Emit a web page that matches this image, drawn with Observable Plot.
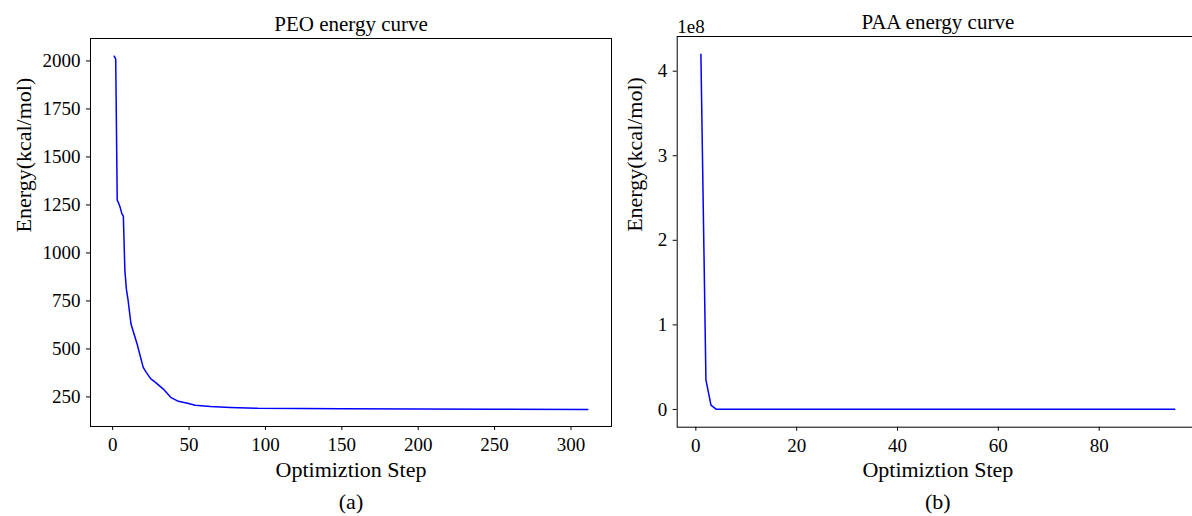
<!DOCTYPE html>
<html><head><meta charset="utf-8">
<script src="https://cdn.jsdelivr.net/npm/d3@7"></script>
<script src="https://cdn.jsdelivr.net/npm/@observablehq/plot@0.6"></script>
<style>
html,body{margin:0;padding:0;background:#fff;overflow:hidden;}
#wrap{position:relative;width:1192px;height:516px;overflow:hidden;background:#fff;}
#a,#b{position:absolute;top:0;}
#a{left:0px;width:620px}
#b{left:612px;width:600px}
svg{overflow:visible;max-width:none !important;}
</style></head><body>
<div id="wrap"><div id="a"></div><div id="b"></div></div>
<script>
// PEO panel data (optimization step, energy kcal/mol)
const peoStep   = [1, 2, 3, 4, 5, 6, 7, 8, 9, 10, 12, 16, 20, 22, 25, 28, 33, 38, 43, 49, 54, 64, 77, 95, 150, 200, 250, 311];
const peoEnergy = [2025, 2010, 1275, 1258, 1235, 1205, 1192, 908, 810, 760, 630, 526, 404, 378, 344, 326, 292, 248, 227, 217, 207, 200, 195, 191, 189, 187, 186, 185];
const peoXTicks = [0, 50, 100, 150, 200, 250, 300];
const peoYTicks = [250, 500, 750, 1000, 1250, 1500, 1750, 2000];

// PAA panel data
const paaStep   = [1, 2, 3, 4, 95];
const paaEnergy = [4.2e8, 3.5e7, 5e6, 3e5, 2e5];
const paaXTicks = [0, 20, 40, 60, 80];
const paaYTicks = [0, 1e8, 2e8, 3e8, 4e8];

const titles = ["PEO energy curve", "PAA energy curve"];
const xLabel = "Optimiztion Step";
const yLabel = "Energy(kcal/mol)";
const captions = ["(a)", "(b)"];

const FONT = "Liberation Serif";
const BLUE = "#0000ff";

const peo = peoStep.map((s, i) => ({step: s, energy: peoEnergy[i]}));
const paa = paaStep.map((s, i) => ({step: s, energy: paaEnergy[i]}));

function textMarks(title, caption, ylabDx) {
  return [
    Plot.text([title], {frameAnchor: "top", dy: -8, lineAnchor: "bottom", fontSize: 21, fill: "#000"}),
    Plot.text([xLabel], {frameAnchor: "bottom", dy: 50, lineAnchor: "bottom", fontSize: 22, fill: "#000"}),
    Plot.text([caption], {frameAnchor: "bottom", dy: 82, lineAnchor: "bottom", fontSize: 22, fill: "#000"}),
    Plot.text([yLabel], {frameAnchor: "left", dx: ylabDx, rotate: -90, lineAnchor: "middle", fontSize: 22, fill: "#000"})
  ];
}

const left = Plot.plot({
  width: 620, height: 516,
  marginLeft: 90, marginRight: 9, marginTop: 38, marginBottom: 90,
  style: {fontFamily: FONT, fontSize: "19px", color: "#000", background: "transparent", maxWidth: "none"},
  x: {domain: [-14.5, 326.5]},
  y: {domain: [96, 2117]},
  marks: [
    Plot.axisX(peoXTicks, {tickSize: 4, tickPadding: 7, label: null, fontSize: 19, tickFormat: d => String(d)}),
    Plot.axisY(peoYTicks, {tickSize: 4, tickPadding: 6, label: null, fontSize: 19, tickFormat: d => String(d)}),
    Plot.line(peo, {x: "step", y: "energy", stroke: BLUE, strokeWidth: 1.5}),
    Plot.frame({stroke: "#000", strokeWidth: 1}),
    ...textMarks(titles[0], captions[0], -67)
  ]
});
document.getElementById("a").append(left);

const right = Plot.plot({
  width: 600, height: 516,
  marginLeft: 64.7, marginRight: 14, marginTop: 36, marginBottom: 89.3,
  style: {fontFamily: FONT, fontSize: "19px", color: "#000", background: "transparent", maxWidth: "none"},
  x: {domain: [-3.7, 99.7]},
  y: {domain: [-0.21e8, 4.41e8]},
  marks: [
    Plot.axisX(paaXTicks, {tickSize: 4, tickPadding: 7, label: null, fontSize: 19, tickFormat: d => String(d)}),
    Plot.axisY(paaYTicks, {tickSize: 4, tickPadding: 6, label: null, fontSize: 19, tickFormat: d => String(d / 1e8)}),
    Plot.line(paa, {x: "step", y: "energy", stroke: BLUE, strokeWidth: 1.5}),
    Plot.frame({stroke: "#000", strokeWidth: 1}),
    Plot.text(["1e8"], {frameAnchor: "top-left", textAnchor: "start", dy: -4, lineAnchor: "bottom", fontSize: 19, fill: "#000"}),
    ...textMarks(titles[1], captions[1], -42)
  ]
});
document.getElementById("b").append(right);
</script>
</body></html>
